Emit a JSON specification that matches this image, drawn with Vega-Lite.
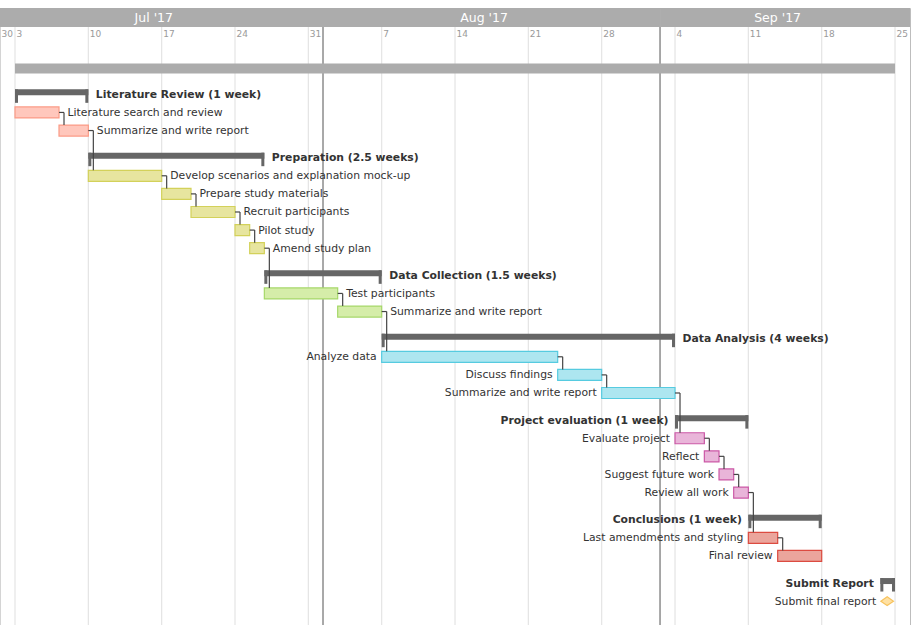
{
  "$schema": "https://vega.github.io/schema/vega-lite/v6.json",
  "width": 910,
  "height": 617,
  "autosize": {"type": "none"},
  "padding": {"left": 0, "top": 8, "right": 6, "bottom": 0},
  "background": "white",
  "config": {"view": {"stroke": "#bdbdbd", "strokeWidth": 1}, "font": "DejaVu Sans"},
  "datasets": {
    "months": [
      {"label": "Jul '17", "start": "2017-07-01T13:38:00Z", "end": "2017-08-01T09:36:00Z", "mid": "2017-07-16T06:00:00Z"},
      {"label": "Aug '17", "start": "2017-08-01T09:36:00Z", "end": "2017-09-02T13:40:00Z", "mid": "2017-08-16T18:30:00Z"},
      {"label": "Sep '17", "start": "2017-09-02T13:40:00Z", "end": "2017-09-26T10:19:00Z", "mid": "2017-09-13T19:00:00Z"}
    ],
    "seps": [
      {"date": "2017-08-01T09:36:00Z"},
      {"date": "2017-09-02T13:40:00Z"}
    ],
    "weeks": [
      {"date": "2017-07-01T13:38:00Z", "label": "30"},
      {"date": "2017-07-03T00:00:00Z", "label": "3"},
      {"date": "2017-07-10T00:00:00Z", "label": "10"},
      {"date": "2017-07-17T00:00:00Z", "label": "17"},
      {"date": "2017-07-24T00:00:00Z", "label": "24"},
      {"date": "2017-07-31T00:00:00Z", "label": "31"},
      {"date": "2017-08-07T00:00:00Z", "label": "7"},
      {"date": "2017-08-14T00:00:00Z", "label": "14"},
      {"date": "2017-08-21T00:00:00Z", "label": "21"},
      {"date": "2017-08-28T00:00:00Z", "label": "28"},
      {"date": "2017-09-04T00:00:00Z", "label": "4"},
      {"date": "2017-09-11T00:00:00Z", "label": "11"},
      {"date": "2017-09-18T00:00:00Z", "label": "18"},
      {"date": "2017-09-25T00:00:00Z", "label": "25"}
    ],
    "project": [
      {"name": "Project", "start": "2017-07-03T00:00:00Z", "end": "2017-09-25T00:00:00Z", "row": 0}
    ],
    "groups": [
      {"name": "Literature Review (1 week)", "start": "2017-07-03T00:00:00Z", "end": "2017-07-10T00:00:00Z", "row": 1.4, "side": "right"},
      {"name": "Preparation (2.5 weeks)", "start": "2017-07-10T00:00:00Z", "end": "2017-07-26T19:12:00Z", "row": 4.9, "side": "right"},
      {"name": "Data Collection (1.5 weeks)", "start": "2017-07-26T19:12:00Z", "end": "2017-08-07T00:00:00Z", "row": 11.4, "side": "right"},
      {"name": "Data Analysis (4 weeks)", "start": "2017-08-07T00:00:00Z", "end": "2017-09-04T00:00:00Z", "row": 14.9, "side": "right"},
      {"name": "Project evaluation (1 week)", "start": "2017-09-04T00:00:00Z", "end": "2017-09-11T00:00:00Z", "row": 19.4, "side": "left"},
      {"name": "Conclusions (1 week)", "start": "2017-09-11T00:00:00Z", "end": "2017-09-18T00:00:00Z", "row": 24.9, "side": "left"},
      {"name": "Submit Report", "start": "2017-09-23T14:24:00Z", "end": "2017-09-25T00:00:00Z", "row": 28.4, "side": "left"}
    ],
    "tasks": [
      {"name": "Literature search and review", "group": "lit", "start": "2017-07-03T00:00:00Z", "end": "2017-07-07T04:48:00Z", "row": 2.4, "side": "right"},
      {"name": "Summarize and write report", "group": "lit", "start": "2017-07-07T04:48:00Z", "end": "2017-07-10T00:00:00Z", "row": 3.4, "side": "right"},
      {"name": "Develop scenarios and explanation mock-up", "group": "prep", "start": "2017-07-10T00:00:00Z", "end": "2017-07-17T00:00:00Z", "row": 5.9, "side": "right"},
      {"name": "Prepare study materials", "group": "prep", "start": "2017-07-17T00:00:00Z", "end": "2017-07-19T19:12:00Z", "row": 6.9, "side": "right"},
      {"name": "Recruit participants", "group": "prep", "start": "2017-07-19T19:12:00Z", "end": "2017-07-24T00:00:00Z", "row": 7.9, "side": "right"},
      {"name": "Pilot study", "group": "prep", "start": "2017-07-24T00:00:00Z", "end": "2017-07-25T09:36:00Z", "row": 8.9, "side": "right"},
      {"name": "Amend study plan", "group": "prep", "start": "2017-07-25T09:36:00Z", "end": "2017-07-26T19:12:00Z", "row": 9.9, "side": "right"},
      {"name": "Test participants", "group": "coll", "start": "2017-07-26T19:12:00Z", "end": "2017-08-02T19:12:00Z", "row": 12.4, "side": "right"},
      {"name": "Summarize and write report", "group": "coll", "start": "2017-08-02T19:12:00Z", "end": "2017-08-07T00:00:00Z", "row": 13.4, "side": "right"},
      {"name": "Analyze data", "group": "anal", "start": "2017-08-07T00:00:00Z", "end": "2017-08-23T19:12:00Z", "row": 15.9, "side": "left"},
      {"name": "Discuss findings", "group": "anal", "start": "2017-08-23T19:12:00Z", "end": "2017-08-28T00:00:00Z", "row": 16.9, "side": "left"},
      {"name": "Summarize and write report", "group": "anal", "start": "2017-08-28T00:00:00Z", "end": "2017-09-04T00:00:00Z", "row": 17.9, "side": "left"},
      {"name": "Evaluate project", "group": "eval", "start": "2017-09-04T00:00:00Z", "end": "2017-09-06T19:12:00Z", "row": 20.4, "side": "left"},
      {"name": "Reflect", "group": "eval", "start": "2017-09-06T19:12:00Z", "end": "2017-09-08T04:48:00Z", "row": 21.4, "side": "left"},
      {"name": "Suggest future work", "group": "eval", "start": "2017-09-08T04:48:00Z", "end": "2017-09-09T14:24:00Z", "row": 22.4, "side": "left"},
      {"name": "Review all work", "group": "eval", "start": "2017-09-09T14:24:00Z", "end": "2017-09-11T00:00:00Z", "row": 23.4, "side": "left"},
      {"name": "Last amendments and styling", "group": "conc", "start": "2017-09-11T00:00:00Z", "end": "2017-09-13T19:12:00Z", "row": 25.9, "side": "left"},
      {"name": "Final review", "group": "conc", "start": "2017-09-13T19:12:00Z", "end": "2017-09-18T00:00:00Z", "row": 26.9, "side": "left"}
    ],
    "milestones": [
      {"name": "Submit final report", "date": "2017-09-24T06:00:00Z", "row": 29.4}
    ],
    "deps": [
      {"date": "2017-07-07T04:48:00Z", "fromRow": 2.4, "toRow": 3.4},
      {"date": "2017-07-10T00:00:00Z", "fromRow": 3.4, "toRow": 5.9},
      {"date": "2017-07-17T00:00:00Z", "fromRow": 5.9, "toRow": 6.9},
      {"date": "2017-07-19T19:12:00Z", "fromRow": 6.9, "toRow": 7.9},
      {"date": "2017-07-24T00:00:00Z", "fromRow": 7.9, "toRow": 8.9},
      {"date": "2017-07-25T09:36:00Z", "fromRow": 8.9, "toRow": 9.9},
      {"date": "2017-07-26T19:12:00Z", "fromRow": 9.9, "toRow": 12.4},
      {"date": "2017-08-02T19:12:00Z", "fromRow": 12.4, "toRow": 13.4},
      {"date": "2017-08-07T00:00:00Z", "fromRow": 13.4, "toRow": 15.9},
      {"date": "2017-08-23T19:12:00Z", "fromRow": 15.9, "toRow": 16.9},
      {"date": "2017-08-28T00:00:00Z", "fromRow": 16.9, "toRow": 17.9},
      {"date": "2017-09-04T00:00:00Z", "fromRow": 17.9, "toRow": 20.4},
      {"date": "2017-09-06T19:12:00Z", "fromRow": 20.4, "toRow": 21.4},
      {"date": "2017-09-08T04:48:00Z", "fromRow": 21.4, "toRow": 22.4},
      {"date": "2017-09-09T14:24:00Z", "fromRow": 22.4, "toRow": 23.4},
      {"date": "2017-09-11T00:00:00Z", "fromRow": 23.4, "toRow": 25.9},
      {"date": "2017-09-13T19:12:00Z", "fromRow": 25.9, "toRow": 26.9}
    ]
  },
  "layer": [
    {
      "data": {"name": "months"},
      "mark": {"type": "rect", "fill": "#acacac"},
      "encoding": {
        "x": {"field": "start", "type": "temporal", "scale": {"type": "utc", "domain": [{"year": 2017, "month": 7, "date": 1, "hours": 13, "minutes": 38, "utc": true}, {"year": 2017, "month": 9, "date": 26, "hours": 10, "minutes": 19, "utc": true}]}, "axis": null},
        "x2": {"field": "end"},
        "y": {"datum": -3.37, "type": "quantitative", "scale": {"domain": [-3.37, 30.718], "reverse": true, "nice": false, "zero": false}, "axis": null},
        "y2": {"datum": -2.32}
      }
    },
    {
      "data": {"name": "months"},
      "mark": {"type": "text", "color": "#ffffff", "fontSize": 12.5, "align": "center", "baseline": "middle"},
      "encoding": {
        "x": {"field": "mid", "type": "temporal"},
        "y": {"datum": -2.82, "type": "quantitative"},
        "text": {"field": "label"}
      }
    },
    {
      "data": {"name": "weeks"},
      "mark": {"type": "rule", "color": "#e4e4e4", "strokeWidth": 1.2},
      "encoding": {
        "x": {"field": "date", "type": "temporal"},
        "y": {"datum": -2.32, "type": "quantitative"},
        "y2": {"datum": 30.718}
      }
    },
    {
      "data": {"name": "weeks"},
      "mark": {"type": "text", "color": "#9a9a9a", "fontSize": 9, "align": "left", "baseline": "middle", "dx": 1.5},
      "encoding": {
        "x": {"field": "date", "type": "temporal"},
        "y": {"datum": -1.934, "type": "quantitative"},
        "text": {"field": "label"}
      }
    },
    {
      "data": {"name": "seps"},
      "mark": {"type": "rule", "color": "#8c8c8c", "strokeWidth": 1.5},
      "encoding": {
        "x": {"field": "date", "type": "temporal"},
        "y": {"datum": -2.32, "type": "quantitative"},
        "y2": {"datum": 30.718}
      }
    },
    {
      "data": {"name": "project"},
      "mark": {"type": "rect", "fill": "#acacac", "yOffset": -5.5, "y2Offset": 4.5},
      "encoding": {
        "x": {"field": "start", "type": "temporal"},
        "x2": {"field": "end"},
        "y": {"field": "row", "type": "quantitative"},
        "y2": {"field": "row"}
      }
    },
    {
      "data": {"name": "groups"},
      "mark": {"type": "rect", "fill": "#666666", "yOffset": -5, "y2Offset": 1},
      "encoding": {
        "x": {"field": "start", "type": "temporal"},
        "x2": {"field": "end"},
        "y": {"field": "row", "type": "quantitative"},
        "y2": {"field": "row"}
      }
    },
    {
      "data": {"name": "groups"},
      "mark": {"type": "rule", "color": "#666666", "strokeWidth": 3, "xOffset": 1.5, "yOffset": -5, "y2Offset": 8.5},
      "encoding": {
        "x": {"field": "start", "type": "temporal"},
        "y": {"field": "row", "type": "quantitative"},
        "y2": {"field": "row"}
      }
    },
    {
      "data": {"name": "groups"},
      "mark": {"type": "rule", "color": "#666666", "strokeWidth": 3, "xOffset": -1.5, "yOffset": -5, "y2Offset": 8.5},
      "encoding": {
        "x": {"field": "end", "type": "temporal"},
        "y": {"field": "row", "type": "quantitative"},
        "y2": {"field": "row"}
      }
    },
    {
      "data": {"name": "tasks"},
      "mark": {"type": "rect", "strokeWidth": 1.2, "yOffset": -5.5, "y2Offset": 5.5},
      "encoding": {
        "x": {"field": "start", "type": "temporal"},
        "x2": {"field": "end"},
        "y": {"field": "row", "type": "quantitative"},
        "y2": {"field": "row"},
        "fill": {"field": "group", "type": "nominal", "legend": null, "scale": {"domain": ["lit", "prep", "coll", "anal", "eval", "conc"], "range": ["#ffc7bc", "#e7e59f", "#d5eda9", "#ade6f0", "#e9b5d9", "#eba59c"]}},
        "stroke": {"field": "group", "type": "nominal", "legend": null, "scale": {"domain": ["lit", "prep", "coll", "anal", "eval", "conc"], "range": ["#fb9b86", "#d3d15a", "#a6d86a", "#56cbe0", "#cb58a6", "#dc4b40"]}}
      }
    },
    {
      "data": {"name": "milestones"},
      "mark": {"type": "point", "shape": "M-1,0L0,-0.7L1,0L0,0.7Z", "size": 160, "filled": true, "fill": "#ffe1a3", "stroke": "#f7c35f", "strokeWidth": 1.2, "opacity": 1},
      "encoding": {
        "x": {"field": "date", "type": "temporal"},
        "y": {"field": "row", "type": "quantitative"}
      }
    },
    {
      "data": {"name": "deps"},
      "mark": {"type": "rule", "color": "#444444", "strokeWidth": 1.2, "x2Offset": 5},
      "encoding": {
        "x": {"field": "date", "type": "temporal"},
        "x2": {"field": "date"},
        "y": {"field": "fromRow", "type": "quantitative"}
      }
    },
    {
      "data": {"name": "deps"},
      "mark": {"type": "rule", "color": "#444444", "strokeWidth": 1.2, "xOffset": 5, "y2Offset": -5.5},
      "encoding": {
        "x": {"field": "date", "type": "temporal"},
        "y": {"field": "fromRow", "type": "quantitative"},
        "y2": {"field": "toRow"}
      }
    },
    {
      "data": {"name": "tasks"},
      "transform": [{"filter": "datum.side == 'right'"}],
      "mark": {"type": "text", "align": "left", "baseline": "middle", "dx": 8.5, "dy": 0.5, "fontSize": 10.8, "color": "#333333"},
      "encoding": {
        "x": {"field": "end", "type": "temporal"},
        "y": {"field": "row", "type": "quantitative"},
        "text": {"field": "name"}
      }
    },
    {
      "data": {"name": "tasks"},
      "transform": [{"filter": "datum.side == 'left'"}],
      "mark": {"type": "text", "align": "right", "baseline": "middle", "dx": -5, "dy": 0.5, "fontSize": 10.8, "color": "#333333"},
      "encoding": {
        "x": {"field": "start", "type": "temporal"},
        "y": {"field": "row", "type": "quantitative"},
        "text": {"field": "name"}
      }
    },
    {
      "data": {"name": "milestones"},
      "mark": {"type": "text", "align": "right", "baseline": "middle", "dx": -11, "dy": 0.5, "fontSize": 10.8, "color": "#333333"},
      "encoding": {
        "x": {"field": "date", "type": "temporal"},
        "y": {"field": "row", "type": "quantitative"},
        "text": {"field": "name"}
      }
    },
    {
      "data": {"name": "groups"},
      "transform": [{"filter": "datum.side == 'right'"}],
      "mark": {"type": "text", "align": "left", "baseline": "middle", "dx": 7.5, "dy": 0.5, "fontSize": 10.8, "fontWeight": "bold", "color": "#333333"},
      "encoding": {
        "x": {"field": "end", "type": "temporal"},
        "y": {"field": "row", "type": "quantitative"},
        "text": {"field": "name"}
      }
    },
    {
      "data": {"name": "groups"},
      "transform": [{"filter": "datum.side == 'left'"}],
      "mark": {"type": "text", "align": "right", "baseline": "middle", "dx": -6.5, "dy": 0.5, "fontSize": 10.8, "fontWeight": "bold", "color": "#333333"},
      "encoding": {
        "x": {"field": "start", "type": "temporal"},
        "y": {"field": "row", "type": "quantitative"},
        "text": {"field": "name"}
      }
    }
  ]
}
